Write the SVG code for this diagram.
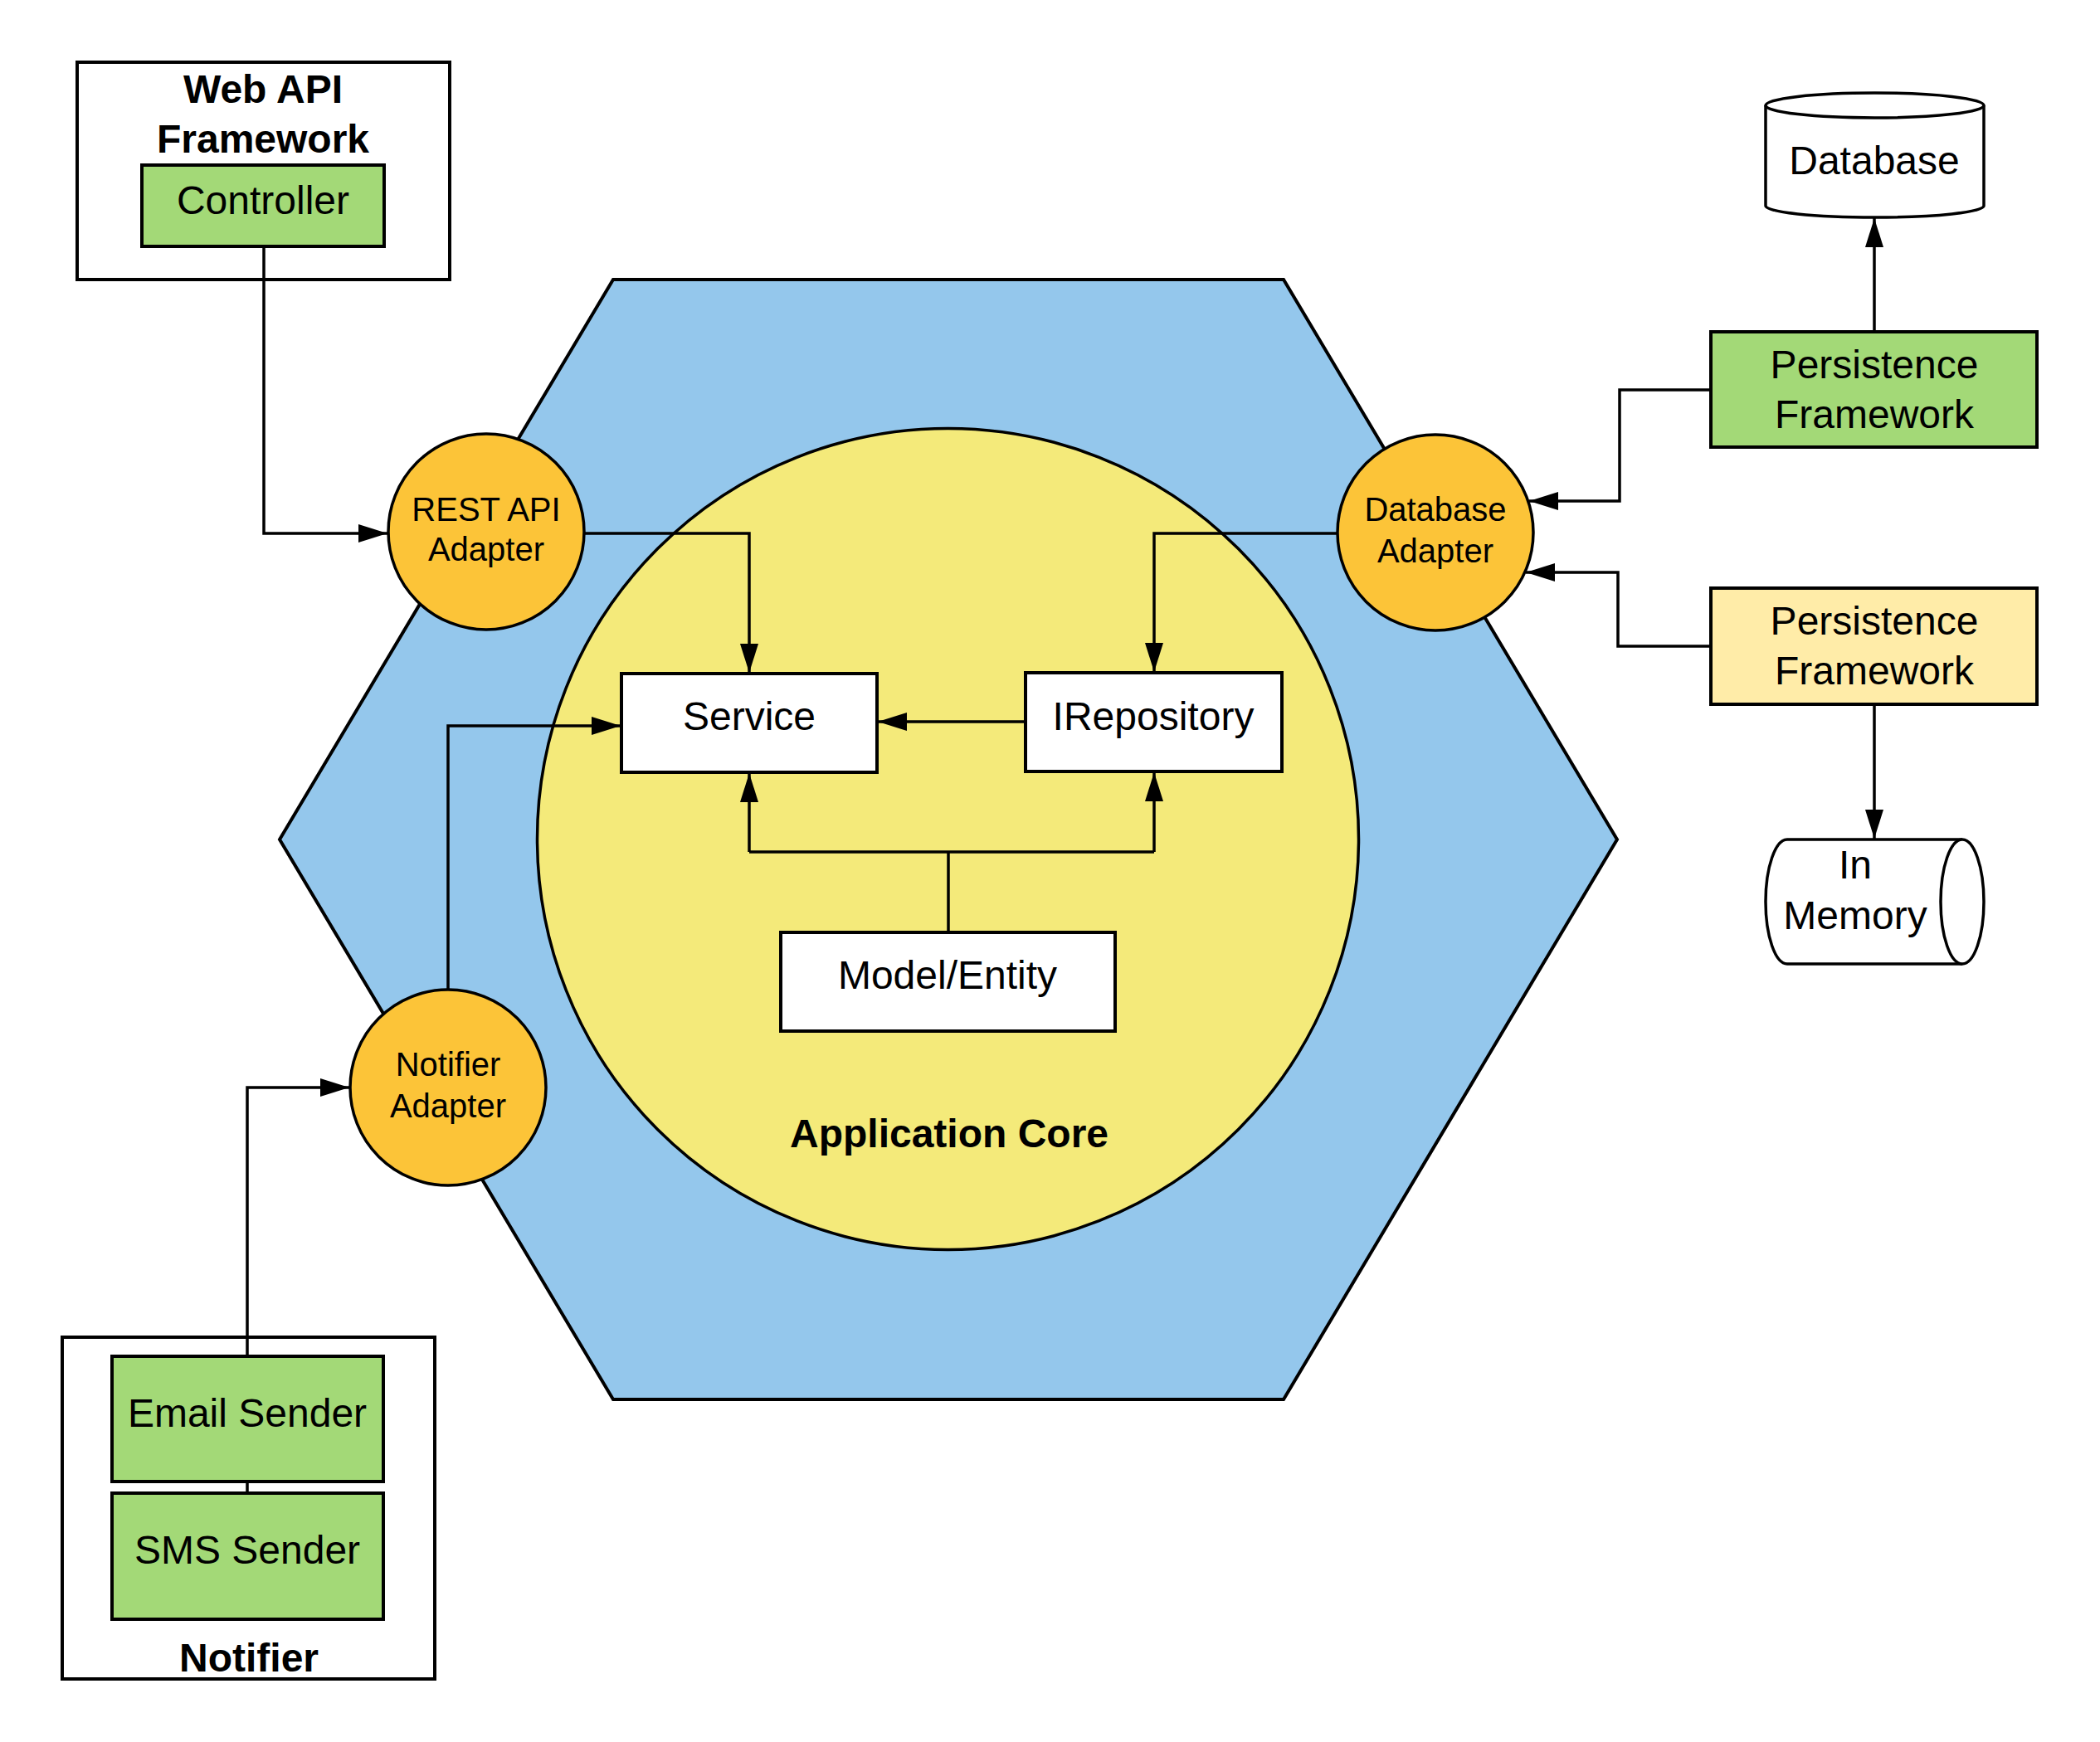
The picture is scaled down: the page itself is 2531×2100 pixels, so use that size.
<svg xmlns="http://www.w3.org/2000/svg" width="2531" height="2100" viewBox="0 0 2531 2100">
  <style>
    .t { font-family: "Liberation Sans", Arial, sans-serif; font-size: 48px; fill: #000; text-anchor: middle; }
    .b { font-weight: bold; }
    .s { font-size: 40px; }
    .box { stroke: #000; stroke-width: 4; }
    .white { fill: #fff; }
    .green { fill: #a3d977; }
    .pale { fill: #ffeca8; }
    .orange { fill: #fcc438; stroke: #000; stroke-width: 3.5; }
    .conn { fill: none; stroke: #000; stroke-width: 3.5; marker-end: url(#arr); }
    .plain { fill: none; stroke: #000; stroke-width: 3.5; }
  </style>
  <defs>
    <marker id="arr" markerUnits="userSpaceOnUse" markerWidth="36" markerHeight="24" refX="35" refY="12" orient="auto">
      <path d="M0,1 L35,12 L0,23 z" fill="#000"/>
    </marker>
  </defs>
  <rect width="2531" height="2100" fill="#fff"/>

  <g id="hexagon">
    <polygon points="739,337 1547,337 1949,1012 1547,1687 739,1687 337,1012" fill="#94c7ec" stroke="#000" stroke-width="4"/>
  </g>
  <g id="application-core">
    <circle cx="1142.5" cy="1011.5" r="495" fill="#f4ea7a" stroke="#000" stroke-width="3.5"/>
    <text class="t b" x="1144" y="1383">Application Core</text>
  </g>

  <g id="web-api-framework">
    <rect x="93" y="75" width="449" height="262" class="box white"/>
    <text class="t b" x="317" y="124">Web API</text>
    <text class="t b" x="317" y="184">Framework</text>
  </g>
  <g id="controller">
    <rect x="171" y="199" width="292" height="98" class="box green"/>
    <text class="t" x="317" y="258">Controller</text>
  </g>

  <g id="rest-api-adapter">
    <circle cx="586" cy="641" r="118" class="orange"/>
    <text class="t s" x="586" y="628">REST API</text>
    <text class="t s" x="586" y="676">Adapter</text>
  </g>
  <g id="database-adapter">
    <circle cx="1730" cy="642" r="118" class="orange"/>
    <text class="t s" x="1730" y="628">Database</text>
    <text class="t s" x="1730" y="678">Adapter</text>
  </g>
  <g id="notifier-adapter">
    <circle cx="540" cy="1311" r="118" class="orange"/>
    <text class="t s" x="540" y="1297">Notifier</text>
    <text class="t s" x="540" y="1347">Adapter</text>
  </g>

  <g id="service">
    <rect x="749" y="812" width="308" height="119" class="box white"/>
    <text class="t" x="903" y="880">Service</text>
  </g>
  <g id="irepository">
    <rect x="1236" y="811" width="309" height="119" class="box white"/>
    <text class="t" x="1390" y="880">IRepository</text>
  </g>
  <g id="model-entity">
    <rect x="941" y="1124" width="403" height="119" class="box white"/>
    <text class="t" x="1142" y="1192">Model/Entity</text>
  </g>

  <g id="database">
    <path d="M2128,127 L2128,248 A131.5,14 0 0 0 2391,248 L2391,127" fill="#fff" stroke="#000" stroke-width="3.5"/>
    <ellipse cx="2259.5" cy="127" rx="131.5" ry="15" fill="#fff" stroke="#000" stroke-width="3.5"/>
    <text class="t" x="2259" y="210">Database</text>
  </g>
  <g id="persistence-framework-green">
    <rect x="2062" y="400" width="393" height="139" class="box green"/>
    <text class="t" x="2259" y="456">Persistence</text>
    <text class="t" x="2259" y="516">Framework</text>
  </g>
  <g id="persistence-framework-yellow">
    <rect x="2062" y="709" width="393" height="140" class="box pale"/>
    <text class="t" x="2259" y="765">Persistence</text>
    <text class="t" x="2259" y="825">Framework</text>
  </g>
  <g id="in-memory">
    <path d="M2365,1012 L2154,1012 A26,75 0 0 0 2154,1162 L2365,1162" fill="#fff" stroke="#000" stroke-width="3.5"/>
    <ellipse cx="2365" cy="1087" rx="26" ry="75" fill="#fff" stroke="#000" stroke-width="3.5"/>
    <text class="t" x="2236" y="1059">In</text>
    <text class="t" x="2236" y="1120">Memory</text>
  </g>

  <g id="notifier">
    <rect x="75" y="1612" width="449" height="412" class="box white"/>
    <text class="t b" x="300" y="2015">Notifier</text>
  </g>
  <g id="email-sender">
    <rect x="135" y="1635" width="327" height="151" class="box green"/>
    <text class="t" x="298" y="1720">Email Sender</text>
  </g>
  <g id="sms-sender">
    <rect x="135" y="1800" width="327" height="152" class="box green"/>
    <text class="t" x="298" y="1885">SMS Sender</text>
  </g>

  <g id="connectors">
    <path class="conn" d="M318,297 L318,643 L467,643"/>
    <path class="conn" d="M704,643 L903,643 L903,811"/>
    <path class="conn" d="M1612,643 L1391,643 L1391,810"/>
    <path class="conn" d="M1236,870 L1058,870"/>
    <path class="plain" d="M903,1027 L1391,1027"/>
    <path class="plain" d="M1143,1124 L1143,1027"/>
    <path class="conn" d="M903,1027 L903,932"/>
    <path class="conn" d="M1391,1027 L1391,931"/>
    <path class="conn" d="M540,1193 L540,875 L748,875"/>
    <path class="conn" d="M298,1635 L298,1311 L421,1311"/>
    <path class="plain" d="M298,1786 L298,1800"/>
    <path class="conn" d="M2259,400 L2259,263"/>
    <path class="conn" d="M2062,470 L1952,470 L1952,604 L1843,604"/>
    <path class="conn" d="M2062,779 L1950,779 L1950,690 L1839,690"/>
    <path class="conn" d="M2259,849 L2259,1011"/>
  </g>
</svg>
